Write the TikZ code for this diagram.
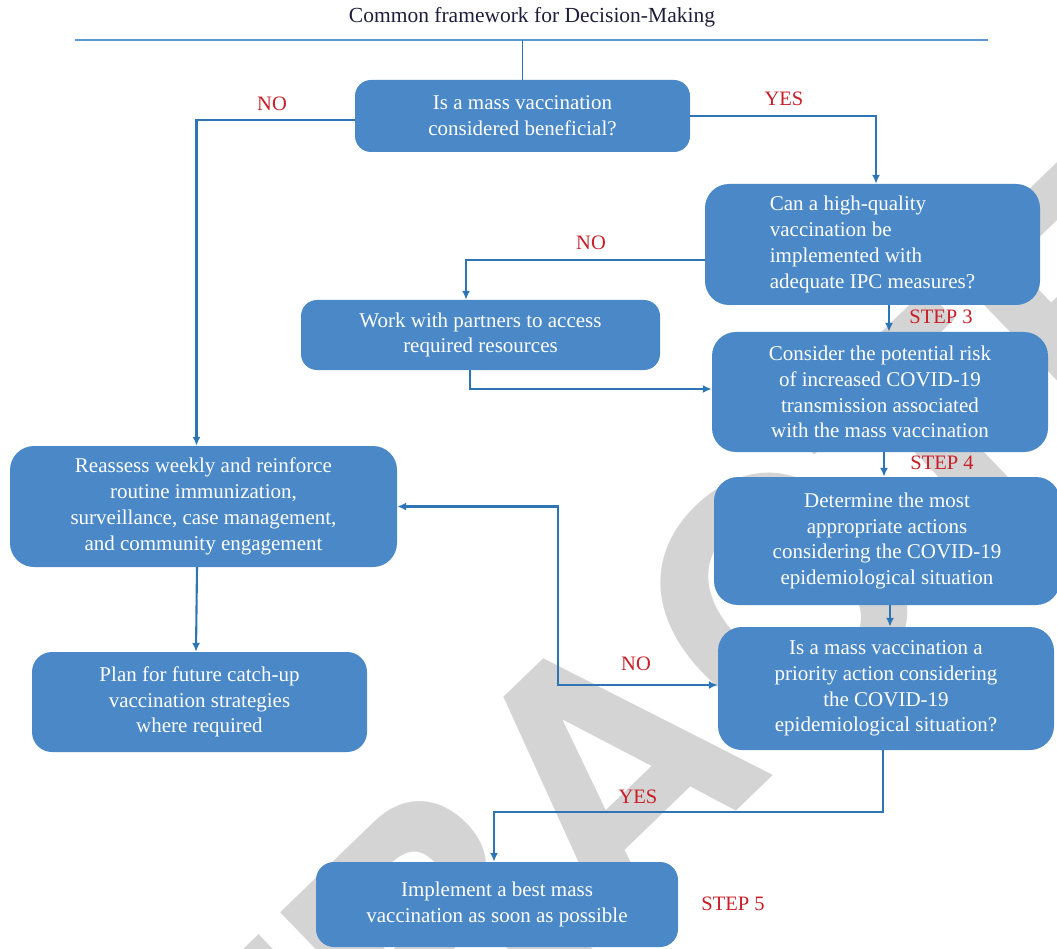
\documentclass[tikz,border=0pt]{standalone}
\usepackage{fontspec}
\setmainfont{Liberation Serif}
\newfontfamily\wmfont{TeX Gyre Heros}
\usetikzlibrary{arrows.meta,calc}
\definecolor{boxfill}{RGB}{74,136,199}
\definecolor{conncol}{RGB}{46,117,182}
\definecolor{titleline}{RGB}{91,155,213}
\definecolor{lblred}{RGB}{200,30,40}
\definecolor{titletext}{RGB}{30,30,60}
\definecolor{wmgray}{RGB}{212,212,212}
\tikzset{
  box/.style={draw=none, fill=boxfill, rounded corners=16pt, text=white, align=center,
    font=\fontsize{21}{25.8}\selectfont, inner sep=0pt},
  conn/.style={draw=conncol, line width=2.1pt, -{Latex[length=9pt,width=8pt]}},
  lbl/.style={text=lblred, font=\fontsize{20.5}{22}\selectfont, inner sep=0pt},
  wm/.style={text=wmgray, font=\wmfont\bfseries\fontsize{334}{334}\selectfont, inner sep=0pt}
}
\begin{document}
\begin{tikzpicture}[x=1pt,y=-1pt]
\useasboundingbox (0,0) rectangle (1057,949);
\clip (0,0) rectangle (1057,949);
% watermark
\node[wm, rotate=44, anchor=base] (wmA) at (691,855) {\llap{RETR}A\rlap{CTED}};
% title
\node[text=titletext, font=\fontsize{21.5}{23}\selectfont, inner sep=0pt] (title) at (532,17) {Common framework for Decision-Making};
\coordinate (tl1) at (75,40);
\coordinate (tl2) at (988,40);
\draw[titleline, line width=1.8pt] (tl1) -- (tl2);
% boxes
\node[box, minimum width=335pt, minimum height=72pt] (B1) at (522.5,116) {Is a mass vaccination\\considered beneficial?};
\node[box, minimum width=335pt, minimum height=121pt, rounded corners=24pt] (B2) at (872.5,244.5)
  {\begin{tabular}{@{}l@{}}Can a high-quality\\vaccination be\\implemented with\\adequate IPC measures?\end{tabular}};
\node[box, minimum width=359pt, minimum height=70pt] (B3) at (480.5,335) {Work with partners to access\\required resources};
\node[box, minimum width=336pt, minimum height=120pt, rounded corners=24pt] (B4) at (880,392) {Consider the potential risk\\of increased COVID-19\\transmission associated\\with the mass vaccination};
\node[box, minimum width=387pt, minimum height=121pt, rounded corners=24pt] (B5) at (203.5,506.5) {Reassess weekly and reinforce\\routine immunization,\\surveillance, case management,\\and community engagement};
\node[box, minimum width=346pt, minimum height=128pt, rounded corners=24pt] (B6) at (887,541) {Determine the most\\appropriate actions\\considering the COVID-19\\epidemiological situation};
\node[box, minimum width=335pt, minimum height=100pt, rounded corners=20pt] (B7) at (199.5,702) {Plan for future catch-up\\vaccination strategies\\where required};
\node[box, minimum width=336pt, minimum height=123pt, rounded corners=24pt] (B8) at (886,688.5) {Is a mass vaccination a\\priority action considering\\the COVID-19\\epidemiological situation?};
\node[box, minimum width=362pt, minimum height=85pt, rounded corners=18pt] (B9) at (497,904.5) {Implement a best mass\\vaccination as soon as possible};
% connectors
\draw[draw=conncol, line width=1pt] (B1.north |- tl1) -- (B1.north);
\draw[conn] ([yshift=-4pt]B1.west) -| ([xshift=-7pt]B5.north);
\draw[conn] (B1.east) -| ([xshift=3.5pt]B2.north);
\draw[conn] ([yshift=-15.5pt]B2.west) -| ([xshift=-14.5pt]B3.north);
\draw[conn] ([xshift=-10.5pt]B3.south) |- ([yshift=3pt]B4.west);
\draw[conn] ([xshift=16.5pt]B2.south) -- ([xshift=16.5pt]B2.south |- B4.north);
\draw[conn] ([xshift=4pt]B4.south) -- ([xshift=4pt]B4.south |- B6.north);
\draw[conn] ([xshift=3pt]B6.south) -- ([xshift=3pt]B6.south |- B8.north);
\draw[conn] ([xshift=-6.5pt]B5.south) -- ([xshift=-3.5pt]B7.north);
\draw[conn, {Latex[length=9pt,width=8pt]}-{Latex[length=9pt,width=8pt]}] (B5.east) -- ++(161,0) |- ([yshift=3.5pt]B8.west);
\coordinate (yesrow) at (0,812);
\draw[conn] ([xshift=-3pt]B8.south) -- ([xshift=-3pt]B8.south |- yesrow) -| ([xshift=-3pt]B9.north);
% labels
\node[lbl] (l1) at (272,104) {NO};
\node[lbl] (l2) at (784,99) {YES};
\node[lbl] (l3) at (591,243) {NO};
\node[lbl] (l4) at (941,317) {STEP 3};
\node[lbl] (l5) at (942,463) {STEP 4};
\node[lbl] (l6) at (636,664) {NO};
\node[lbl] (l7) at (638,797) {YES};
\node[lbl] (l8) at (733,904) {STEP 5};
\end{tikzpicture}
\end{document}
